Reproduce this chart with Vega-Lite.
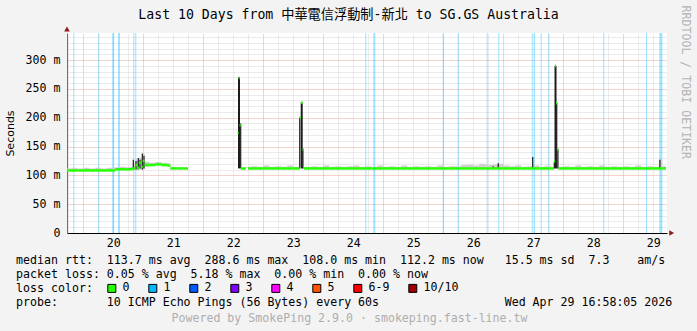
{
  "$schema": "https://vega.github.io/schema/vega-lite/v6.json",
  "width": 600,
  "height": 200,
  "autosize": {"type": "none"},
  "padding": {"left": 67, "top": 33, "right": 30, "bottom": 98},
  "background": "#f3f3f3",
  "view": {"fill": "white", "stroke": null},
  "datasets": {
    "loss": [
      {"t0": 19.833, "t1": 19.85, "loss": "1"},
      {"t0": 20.25, "t1": 20.267, "loss": "1"},
      {"t0": 20.481, "t1": 20.514, "loss": "1"},
      {"t0": 20.578, "t1": 20.611, "loss": "1"},
      {"t0": 20.833, "t1": 20.85, "loss": "1"},
      {"t0": 20.866, "t1": 20.883, "loss": "1"},
      {"t0": 24.7, "t1": 24.717, "loss": "1"},
      {"t0": 24.833, "t1": 24.866, "loss": "1"},
      {"t0": 25.99, "t1": 26.007, "loss": "1"},
      {"t0": 26.24, "t1": 26.257, "loss": "1"},
      {"t0": 26.723, "t1": 26.74, "loss": "1"},
      {"t0": 26.916, "t1": 26.933, "loss": "1"},
      {"t0": 27.473, "t1": 27.49, "loss": "1"},
      {"t0": 27.511, "t1": 27.528, "loss": "1"},
      {"t0": 27.623, "t1": 27.64, "loss": "1"},
      {"t0": 27.75, "t1": 27.767, "loss": "1"},
      {"t0": 28.666, "t1": 28.683, "loss": "1"},
      {"t0": 29.378, "t1": 29.395, "loss": "1"},
      {"t0": 29.6, "t1": 29.65, "loss": "1"}
    ],
    "main": [
      {"d": 19.728, "d2": 19.8, "med": 108.5, "lo": 107.5, "hi": 112},
      {"d": 19.8, "d2": 19.9, "med": 108.5, "lo": 107.5, "hi": 113},
      {"d": 19.9, "d2": 20.0, "med": 108.5, "lo": 107.5, "hi": 112},
      {"d": 20.0, "d2": 20.1, "med": 108.5, "lo": 107.5, "hi": 113},
      {"d": 20.1, "d2": 20.2, "med": 108.5, "lo": 107.5, "hi": 112},
      {"d": 20.2, "d2": 20.3, "med": 108.5, "lo": 107.5, "hi": 113},
      {"d": 20.3, "d2": 20.4, "med": 108.5, "lo": 107.5, "hi": 112},
      {"d": 20.4, "d2": 20.53, "med": 108.5, "lo": 107.5, "hi": 113},
      {"d": 20.53, "d2": 20.6, "med": 110.5, "lo": 109.5, "hi": 114},
      {"d": 20.6, "d2": 20.7, "med": 110.5, "lo": 109.5, "hi": 115},
      {"d": 20.7, "d2": 20.8, "med": 110.5, "lo": 109.5, "hi": 114},
      {"d": 20.8, "d2": 20.83, "med": 111, "lo": 110, "hi": 115},
      {"d": 20.83, "d2": 20.87, "med": 112, "lo": 110, "hi": 122},
      {"d": 20.87, "d2": 20.9, "med": 118, "lo": 110, "hi": 128},
      {"d": 20.9, "d2": 20.93, "med": 113, "lo": 110, "hi": 126},
      {"d": 20.93, "d2": 20.96, "med": 122, "lo": 110, "hi": 131},
      {"d": 20.96, "d2": 20.99, "med": 115, "lo": 110, "hi": 130},
      {"d": 20.99, "d2": 21.02, "med": 125, "lo": 110, "hi": 138},
      {"d": 21.02, "d2": 21.1, "med": 118, "lo": 115, "hi": 123},
      {"d": 21.1, "d2": 21.2, "med": 118, "lo": 116, "hi": 122},
      {"d": 21.2, "d2": 21.3, "med": 119, "lo": 117, "hi": 123},
      {"d": 21.3, "d2": 21.4, "med": 118, "lo": 116, "hi": 122},
      {"d": 21.4, "d2": 21.45, "med": 117, "lo": 115, "hi": 121},
      {"d": 21.45, "d2": 21.55, "med": 112, "lo": 111, "hi": 115},
      {"d": 21.55, "d2": 21.65, "med": 112, "lo": 111, "hi": 114},
      {"d": 21.65, "d2": 21.745, "med": 112, "lo": 111, "hi": 115},
      {"d": 21.745, "d2": null, "med": null, "lo": null, "hi": null},
      {"d": 22.573, "d2": 22.588, "med": 174, "lo": 172, "hi": 176},
      {"d": 22.588, "d2": 22.605, "med": 269, "lo": 266, "hi": 271},
      {"d": 22.605, "d2": 22.623, "med": 187, "lo": 185, "hi": 190},
      {"d": 22.623, "d2": 22.711, "med": 112, "lo": 111, "hi": 115},
      {"d": 22.711, "d2": null, "med": null, "lo": null, "hi": null},
      {"d": 22.745, "d2": 22.8, "med": 112, "lo": 111, "hi": 115},
      {"d": 22.8, "d2": 22.9, "med": 112, "lo": 111, "hi": 116},
      {"d": 22.9, "d2": 23.0, "med": 112, "lo": 111, "hi": 115},
      {"d": 23.0, "d2": 23.1, "med": 112, "lo": 111, "hi": 117},
      {"d": 23.1, "d2": 23.2, "med": 112, "lo": 111, "hi": 115},
      {"d": 23.2, "d2": 23.3, "med": 112, "lo": 111, "hi": 116},
      {"d": 23.3, "d2": 23.4, "med": 112, "lo": 111, "hi": 115},
      {"d": 23.4, "d2": 23.5, "med": 112, "lo": 111, "hi": 117},
      {"d": 23.5, "d2": 23.605, "med": 112, "lo": 111, "hi": 115},
      {"d": 23.605, "d2": 23.625, "med": 200, "lo": 198, "hi": 202},
      {"d": 23.625, "d2": 23.655, "med": 226, "lo": 224, "hi": 228},
      {"d": 23.655, "d2": 23.675, "med": 145, "lo": 143, "hi": 147},
      {"d": 23.675, "d2": 23.8, "med": 112, "lo": 111, "hi": 115},
      {"d": 23.8, "d2": 23.9, "med": 112, "lo": 111, "hi": 116},
      {"d": 23.9, "d2": 24.0, "med": 112, "lo": 111, "hi": 115},
      {"d": 24.0, "d2": 24.1, "med": 112, "lo": 111, "hi": 117},
      {"d": 24.1, "d2": 24.2, "med": 112, "lo": 111, "hi": 115},
      {"d": 24.2, "d2": 24.3, "med": 112, "lo": 111, "hi": 116},
      {"d": 24.3, "d2": 24.4, "med": 112, "lo": 111, "hi": 115},
      {"d": 24.4, "d2": 24.5, "med": 112, "lo": 111, "hi": 116},
      {"d": 24.5, "d2": 24.6, "med": 112, "lo": 111, "hi": 117},
      {"d": 24.6, "d2": 24.7, "med": 112, "lo": 111, "hi": 115},
      {"d": 24.7, "d2": 24.8, "med": 112, "lo": 111, "hi": 116},
      {"d": 24.8, "d2": 24.9, "med": 112, "lo": 111, "hi": 115},
      {"d": 24.9, "d2": 25.0, "med": 112, "lo": 111, "hi": 117},
      {"d": 25.0, "d2": 25.1, "med": 112, "lo": 111, "hi": 115},
      {"d": 25.1, "d2": 25.2, "med": 112, "lo": 111, "hi": 116},
      {"d": 25.2, "d2": 25.3, "med": 112, "lo": 111, "hi": 115},
      {"d": 25.3, "d2": 25.4, "med": 112, "lo": 111, "hi": 117},
      {"d": 25.4, "d2": 25.5, "med": 112, "lo": 111, "hi": 115},
      {"d": 25.5, "d2": 25.6, "med": 112, "lo": 111, "hi": 116},
      {"d": 25.6, "d2": 25.7, "med": 112, "lo": 111, "hi": 115},
      {"d": 25.7, "d2": 25.8, "med": 112, "lo": 111, "hi": 116},
      {"d": 25.8, "d2": 25.9, "med": 112, "lo": 111, "hi": 115},
      {"d": 25.9, "d2": 26.0, "med": 112, "lo": 111, "hi": 117},
      {"d": 26.0, "d2": 26.1, "med": 112, "lo": 111, "hi": 115},
      {"d": 26.1, "d2": 26.2, "med": 112, "lo": 111, "hi": 116},
      {"d": 26.2, "d2": 26.3, "med": 112, "lo": 111, "hi": 116},
      {"d": 26.3, "d2": 26.4, "med": 112, "lo": 111, "hi": 118},
      {"d": 26.4, "d2": 26.5, "med": 112, "lo": 111, "hi": 119},
      {"d": 26.5, "d2": 26.6, "med": 112, "lo": 111, "hi": 117},
      {"d": 26.6, "d2": 26.7, "med": 112, "lo": 111, "hi": 120},
      {"d": 26.7, "d2": 26.8, "med": 112, "lo": 111, "hi": 118},
      {"d": 26.8, "d2": 26.9, "med": 112, "lo": 111, "hi": 119},
      {"d": 26.9, "d2": 27.0, "med": 112, "lo": 111, "hi": 120},
      {"d": 27.0, "d2": 27.1, "med": 112, "lo": 111, "hi": 117},
      {"d": 27.1, "d2": 27.2, "med": 112, "lo": 111, "hi": 116},
      {"d": 27.2, "d2": 27.3, "med": 112, "lo": 111, "hi": 117},
      {"d": 27.3, "d2": 27.4, "med": 112, "lo": 111, "hi": 115},
      {"d": 27.4, "d2": 27.5, "med": 112, "lo": 111, "hi": 116},
      {"d": 27.5, "d2": 27.6, "med": 112, "lo": 111, "hi": 117},
      {"d": 27.6, "d2": 27.7, "med": 112, "lo": 111, "hi": 115},
      {"d": 27.7, "d2": 27.8, "med": 112, "lo": 111, "hi": 116},
      {"d": 27.8, "d2": 27.845, "med": 112, "lo": 111, "hi": 115},
      {"d": 27.845, "d2": 27.86, "med": 124, "lo": 122, "hi": 126},
      {"d": 27.86, "d2": 27.88, "med": 290, "lo": 288, "hi": 291},
      {"d": 27.88, "d2": 27.9, "med": 225, "lo": 223, "hi": 227},
      {"d": 27.9, "d2": 27.92, "med": 145, "lo": 143, "hi": 147},
      {"d": 27.92, "d2": 28.0, "med": 112, "lo": 111, "hi": 115},
      {"d": 28.0, "d2": 28.1, "med": 112, "lo": 111, "hi": 116},
      {"d": 28.1, "d2": 28.2, "med": 112, "lo": 111, "hi": 115},
      {"d": 28.2, "d2": 28.3, "med": 112, "lo": 111, "hi": 117},
      {"d": 28.3, "d2": 28.4, "med": 112, "lo": 111, "hi": 115},
      {"d": 28.4, "d2": 28.5, "med": 112, "lo": 111, "hi": 116},
      {"d": 28.5, "d2": 28.6, "med": 112, "lo": 111, "hi": 115},
      {"d": 28.6, "d2": 28.7, "med": 112, "lo": 111, "hi": 117},
      {"d": 28.7, "d2": 28.8, "med": 112, "lo": 111, "hi": 115},
      {"d": 28.8, "d2": 28.9, "med": 112, "lo": 111, "hi": 116},
      {"d": 28.9, "d2": 29.0, "med": 112, "lo": 111, "hi": 115},
      {"d": 29.0, "d2": 29.1, "med": 112, "lo": 111, "hi": 116},
      {"d": 29.1, "d2": 29.2, "med": 112, "lo": 111, "hi": 115},
      {"d": 29.2, "d2": 29.3, "med": 112, "lo": 111, "hi": 117},
      {"d": 29.3, "d2": 29.4, "med": 112, "lo": 111, "hi": 115},
      {"d": 29.4, "d2": 29.5, "med": 112, "lo": 111, "hi": 116},
      {"d": 29.5, "d2": 29.6, "med": 112, "lo": 111, "hi": 115},
      {"d": 29.6, "d2": 29.65, "med": 112, "lo": 111, "hi": 128},
      {"d": 29.65, "d2": 29.711, "med": 112, "lo": 111, "hi": 116},
      {"d": 29.711, "d2": 29.711, "med": 112, "lo": 111, "hi": 116}
    ],
    "spikes": [
      {"d": 22.595, "lo": 112, "hi": 270},
      {"d": 23.64, "lo": 112, "hi": 226},
      {"d": 27.87, "lo": 112, "hi": 290}
    ],
    "specks": [
      {"d": 20.833, "lo": 110, "hi": 127},
      {"d": 20.878, "lo": 110, "hi": 125},
      {"d": 20.916, "lo": 110, "hi": 130},
      {"d": 20.945, "lo": 112, "hi": 127},
      {"d": 20.983, "lo": 110, "hi": 138},
      {"d": 21.011, "lo": 112, "hi": 134},
      {"d": 22.623, "lo": 112, "hi": 190},
      {"d": 23.607, "lo": 112, "hi": 200},
      {"d": 23.66, "lo": 112, "hi": 145},
      {"d": 26.83, "lo": 111, "hi": 116},
      {"d": 26.915, "lo": 112, "hi": 121},
      {"d": 27.49, "lo": 112, "hi": 132},
      {"d": 27.85, "lo": 112, "hi": 124},
      {"d": 27.89, "lo": 112, "hi": 225},
      {"d": 27.91, "lo": 112, "hi": 145},
      {"d": 29.61, "lo": 112, "hi": 127}
    ],
    "yarrow": [{"d": 19.728, "v": 354}],
    "xarrow": [{"d": 29.806, "v": 0}]
  },
  "layer": [
    {
      "data": {"name": "loss"},
      "mark": {"type": "rect", "fillOpacity": 0.38, "clip": true},
      "encoding": {
        "x": {
          "field": "t0", "type": "quantitative",
          "scale": {"domain": [19.728, 29.728], "nice": false, "zero": false},
          "axis": {
            "values": [19.75, 20, 20.25, 20.5, 20.75, 21, 21.25, 21.5, 21.75, 22, 22.25, 22.5, 22.75, 23, 23.25, 23.5, 23.75, 24, 24.25, 24.5, 24.75, 25, 25.25, 25.5, 25.75, 26, 26.25, 26.5, 26.75, 27, 27.25, 27.5, 27.75, 28, 28.25, 28.5, 28.75, 29, 29.25, 29.5],
            "labelExpr": "datum.value % 1 === 0.5 ? '' + floor(datum.value) : ''",
            "labelFont": "DejaVu Sans Mono", "labelFontSize": 11.6, "labelColor": "black",
            "labelPadding": 4, "labelOverlap": false, "labelFlush": false, "labelBound": false,
            "ticks": false, "domain": true, "domainColor": "black", "domainWidth": 1,
            "grid": true,
            "gridColor": {"condition": {"test": "datum.value % 1 === 0", "value": "#e6a4a4"}, "value": "#d6d6d6"},
            "gridDash": [1, 1], "gridWidth": 1, "gridOpacity": 1,
            "title": [
              "median rtt:\u00a0\u00a0113.7 ms avg\u00a0\u00a0288.6 ms max\u00a0\u00a0108.0 ms min\u00a0\u00a0112.2 ms now\u00a0\u00a0\u00a015.5 ms sd\u00a0\u00a07.3\u00a0\u00a0\u00a0\u00a0am/s",
              "packet loss: 0.05 % avg\u00a0\u00a05.18 % max\u00a0\u00a00.00 % min\u00a0\u00a00.00 % now",
              "loss color:",
              "probe:\u00a0\u00a0\u00a0\u00a0\u00a0\u00a0\u00a010 ICMP Echo Pings (56 Bytes) every 60s\u00a0\u00a0\u00a0\u00a0\u00a0\u00a0\u00a0\u00a0\u00a0\u00a0\u00a0\u00a0\u00a0\u00a0\u00a0\u00a0\u00a0\u00a0Wed Apr 29 16:58:05 2026"
            ],
            "titleFont": "DejaVu Sans Mono", "titleFontSize": 11.6, "titleFontWeight": "normal",
            "titleColor": "black", "titleAlign": "left", "titleAnchor": "start",
            "titleBaseline": "alphabetic", "titleX": -51.4, "titleY": 30, "titleLineHeight": 14.3
          }
        },
        "x2": {"field": "t1"},
        "color": {
          "field": "loss", "type": "nominal",
          "scale": {
            "domain": ["0", "1", "2", "3", "4", "5", "6-9", "10/10"],
            "range": ["#26ff00", "#00b8ff", "#0059ff", "#7e00ff", "#ff00ff", "#ff5500", "#ff0000", "#a10000"]
          },
          "legend": {
            "orient": "none", "legendX": 39, "legendY": 249.5, "direction": "horizontal",
            "title": null, "padding": 0, "symbolType": "square", "symbolSize": 64,
            "symbolStrokeColor": "black", "symbolStrokeWidth": 1, "symbolOpacity": 1,
            "labelFont": "DejaVu Sans Mono", "labelFontSize": 11.6, "labelColor": "black",
            "labelOffset": 5, "columnPadding": 16,
            "encode": {"symbols": {"update": {"stroke": {"value": "black"}, "strokeWidth": {"value": 1}, "opacity": {"value": 1}, "fillOpacity": {"value": 1}}}}
          }
        }
      }
    },
    {
      "data": {"name": "main"},
      "mark": {"type": "area", "interpolate": "step-after", "color": "#cfcfcf", "clip": true},
      "encoding": {
        "x": {"field": "d", "type": "quantitative", "scale": {"domain": [19.728, 29.728], "nice": false, "zero": false}, "axis": null},
        "y": {
          "field": "lo", "type": "quantitative",
          "scale": {"domain": [0, 347], "nice": false, "zero": false},
          "axis": {
            "values": [0, 10, 20, 30, 40, 50, 60, 70, 80, 90, 100, 110, 120, 130, 140, 150, 160, 170, 180, 190, 200, 210, 220, 230, 240, 250, 260, 270, 280, 290, 300, 310, 320, 330, 340],
            "labelExpr": "datum.value % 50 === 0 ? (datum.value === 0 ? '0' : datum.value + ' m') : ''",
            "labelFont": "DejaVu Sans Mono", "labelFontSize": 11.6, "labelColor": "black",
            "labelPadding": 7, "labelOverlap": false, "labelBound": false, "labelFlush": false,
            "ticks": false, "domain": true, "domainColor": "#707070", "domainWidth": 1,
            "grid": true,
            "gridColor": {"condition": {"test": "datum.value % 50 === 0", "value": "#e6a4a4"}, "value": "#d6d6d6"},
            "gridDash": [1, 1], "gridWidth": 1, "gridOpacity": 1,
            "title": "Seconds", "titleFont": "DejaVu Sans", "titleFontSize": 11, "titleFontWeight": "normal",
            "titleColor": "black", "titleAngle": -90, "titleX": -57, "titleY": 100,
            "titleAlign": "center", "titleBaseline": "middle"
          }
        },
        "y2": {"field": "hi"}
      }
    },
    {
      "data": {"name": "spikes"},
      "mark": {"type": "rule", "color": "#1c1c1c", "strokeWidth": 2, "clip": true},
      "encoding": {
        "x": {"field": "d", "type": "quantitative", "axis": null},
        "y": {"field": "lo", "type": "quantitative", "axis": null},
        "y2": {"field": "hi"}
      }
    },
    {
      "data": {"name": "specks"},
      "mark": {"type": "rule", "color": "#1c1c1c", "strokeWidth": 1.2, "clip": true},
      "encoding": {
        "x": {"field": "d", "type": "quantitative", "axis": null},
        "y": {"field": "lo", "type": "quantitative", "axis": null},
        "y2": {"field": "hi"}
      }
    },
    {
      "data": {"name": "main"},
      "mark": {"type": "rule", "color": "#26ff00", "strokeWidth": 2.5, "clip": true},
      "encoding": {
        "x": {"field": "d", "type": "quantitative", "axis": null},
        "x2": {"field": "d2"},
        "y": {"field": "med", "type": "quantitative", "axis": null}
      }
    },
    {
      "data": {"name": "yarrow"},
      "mark": {"type": "point", "shape": "triangle-up", "filled": true, "color": "#8b1c1c", "size": 32, "opacity": 1, "clip": false},
      "encoding": {
        "x": {
          "field": "d", "type": "quantitative",
          "scale": {"domain": [19.728, 29.728], "nice": false, "zero": false},
          "axis": {
            "orient": "bottom", "labels": false, "ticks": false, "domain": false, "grid": false,
            "title": "Powered by SmokePing 2.9.0 · smokeping.fast-line.tw",
            "titleFont": "DejaVu Sans Mono", "titleFontSize": 11.6, "titleFontWeight": "normal",
            "titleColor": "#aeaeae", "titleAlign": "center", "titleBaseline": "middle",
            "titleX": 282, "titleY": 85
          }
        },
        "y": {
          "field": "v", "type": "quantitative",
          "scale": {"domain": [0, 347], "nice": false, "zero": false},
          "axis": {
            "orient": "right", "labels": false, "ticks": false, "domain": false, "grid": false,
            "title": "RRDTOOL / TOBI OETIKER",
            "titleFont": "DejaVu Sans Mono", "titleFontSize": 11.6, "titleFontWeight": "normal",
            "titleColor": "#b4b4b4", "titleAngle": 90, "titleAlign": "left", "titleBaseline": "middle",
            "titleX": 17, "titleY": -28
          }
        }
      }
    },
    {
      "data": {"name": "xarrow"},
      "mark": {"type": "point", "shape": "triangle-right", "filled": true, "color": "#8b1c1c", "size": 32, "opacity": 1, "clip": false},
      "encoding": {
        "x": {
          "field": "d", "type": "quantitative",
          "scale": {"domain": [19.728, 29.728], "nice": false, "zero": false},
          "axis": {
            "orient": "top", "labels": false, "ticks": false, "domain": false, "grid": false,
            "title": "Last 10 Days from 中華電信浮動制-新北 to SG.GS Australia",
            "titleFont": "DejaVu Sans Mono, Noto Sans CJK TC", "titleFontSize": 13.2, "titleFontWeight": "normal",
            "titleColor": "black", "titleAlign": "center", "titleBaseline": "middle",
            "titleX": 281, "titleY": -18.7
          }
        },
        "y": {"field": "v", "type": "quantitative", "scale": {"domain": [0, 347], "nice": false, "zero": false}, "axis": null}
      }
    }
  ],
  "resolve": {"axis": {"x": "independent", "y": "independent"}}
}
